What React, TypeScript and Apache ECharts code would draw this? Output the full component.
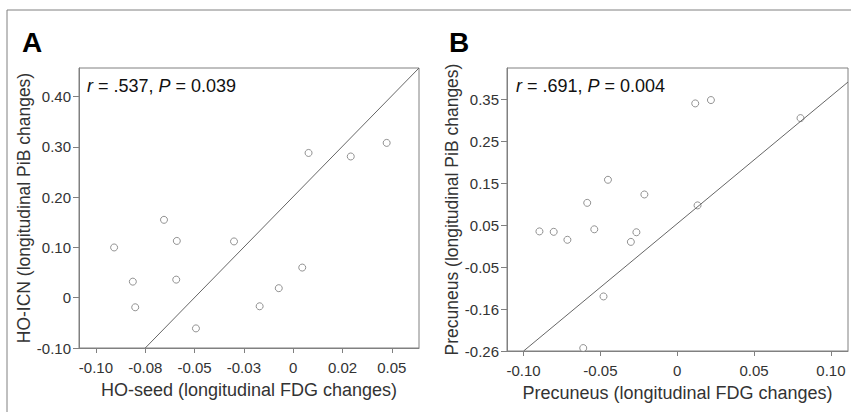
import React, { useEffect, useRef } from "react";
import * as echarts from "echarts";

// Panel A data (HO-seed FDG vs HO-ICN PiB)
const aX = [-0.0908, -0.0655, -0.059, -0.0813, -0.0593, -0.0801, -0.0493, -0.03, 0.0046, -0.0073, -0.017, 0.0078, 0.0292, 0.0474];
const aY = [0.1, 0.155, 0.113, 0.032, 0.036, -0.019, -0.061, 0.112, 0.06, 0.019, -0.017, 0.288, 0.281, 0.308];
const aFitX = [-0.075, 0.0638];
const aFitY = [-0.1, 0.457];
const aXTicks = [-0.1, -0.075, -0.05, -0.025, 0, 0.025, 0.05];
const aXLabels = ["-0.10", "-0.08", "-0.05", "-0.03", "0", "0.02", "0.05"];
const aYTicks = [-0.1, 0, 0.1, 0.2, 0.3, 0.4];
const aYLabels = ["-0.10", "0", "0.10", "0.20", "0.30", "0.40"];

// Panel B data (Precuneus FDG vs Precuneus PiB)
const bX = [0.0117, 0.0219, 0.0802, -0.0451, -0.0214, -0.0586, 0.0132, -0.0897, -0.0804, -0.0715, -0.054, -0.0266, -0.0302, -0.048, -0.0612];
const bY = [0.34, 0.348, 0.305, 0.158, 0.123, 0.103, 0.097, 0.035, 0.034, 0.015, 0.04, 0.033, 0.01, -0.12, -0.243];
const bFitX = [-0.1, 0.1111];
const bFitY = [-0.25, 0.391];
const bXTicks = [-0.1, -0.05, 0, 0.05, 0.1];
const bXLabels = ["-0.10", "-0.05", "0", "0.05", "0.10"];
const bYTicks = [-0.25, -0.15, -0.05, 0.05, 0.15, 0.25, 0.35];
const bYLabels = ["-0.26", "-0.16", "-0.05", "0.05", "0.15", "0.25", "0.35"];

const FONT = "Liberation Sans, Arial, sans-serif";
const TEXT = "#333";
const FRAME = "#808080";

function labelFor(ticks: number[], labels: string[]) {
  return (v: number) => {
    for (let i = 0; i < ticks.length; i++) if (Math.abs(ticks[i] - v) < 1e-6) return labels[i];
    return "";
  };
}

function axis(
  gridIndex: number,
  isX: boolean,
  min: number,
  max: number,
  ticks: number[],
  labels: string[],
  name: string,
  nameGap: number
) {
  return {
    type: "value",
    gridIndex,
    min,
    max,
    name,
    nameLocation: "middle",
    nameGap,
    nameTextStyle: { fontFamily: FONT, fontSize: isX ? 18 : 17.5, color: TEXT },
    axisLine: { show: true, onZero: false, lineStyle: { color: FRAME, width: 1 } },
    splitLine: { show: false },
    axisTick: {
      show: true,
      inside: false,
      length: isX ? 5 : 6,
      customValues: ticks,
      lineStyle: { color: FRAME, width: 1 },
    },
    axisLabel: {
      customValues: ticks,
      formatter: labelFor(ticks, labels),
      fontFamily: FONT,
      fontSize: 15,
      color: TEXT,
      margin: isX ? 12 : 8,
    },
  };
}

export default function App() {
  const ref = useRef<HTMLDivElement>(null);
  useEffect(() => {
    if (!ref.current) return;
    const chart = echarts.init(ref.current, undefined, { renderer: "svg" });
    const scatterStyle = {
      symbol: "circle",
      symbolSize: 7,
      itemStyle: { color: "#fff", borderColor: "#777", borderWidth: 1 },
    };
    const lineStyle = {
      symbol: "none",
      lineStyle: { color: "#666", width: 1 },
      silent: true,
    };
    chart.setOption({
      animation: false,
      backgroundColor: "#fff",
      grid: [
        { left: 79, top: 68, width: 340, height: 280, show: true, borderColor: FRAME, borderWidth: 1, backgroundColor: "transparent" },
        { left: 507, top: 68, width: 341, height: 283, show: true, borderColor: FRAME, borderWidth: 1, backgroundColor: "transparent" },
      ],
      xAxis: [
        axis(0, true, -0.1086, 0.0638, aXTicks, aXLabels, "HO-seed (longitudinal FDG changes)", 33),
        axis(1, true, -0.1108, 0.1111, bXTicks, bXLabels, "Precuneus (longitudinal FDG changes)", 33),
      ],
      yAxis: [
        axis(0, false, -0.1, 0.457, aYTicks, aYLabels, "HO-ICN (longitudinal PiB changes)", 41),
        axis(1, false, -0.25, 0.4244, bYTicks, bYLabels, "Precuneus (longitudinal PiB changes)", 41),
      ],
      series: [
        { type: "line", xAxisIndex: 0, yAxisIndex: 0, data: aFitX.map((x, i) => [x, aFitY[i]]), ...lineStyle },
        { type: "scatter", xAxisIndex: 0, yAxisIndex: 0, data: aX.map((x, i) => [x, aY[i]]), ...scatterStyle },
        { type: "line", xAxisIndex: 1, yAxisIndex: 1, data: bFitX.map((x, i) => [x, bFitY[i]]), ...lineStyle },
        { type: "scatter", xAxisIndex: 1, yAxisIndex: 1, data: bX.map((x, i) => [x, bY[i]]), ...scatterStyle },
      ],
      graphic: [
        { type: "line", shape: { x1: 7, y1: 10, x2: 851, y2: 10 }, style: { stroke: FRAME, lineWidth: 1 } },
        { type: "line", shape: { x1: 7, y1: 10, x2: 7, y2: 412 }, style: { stroke: FRAME, lineWidth: 1 } },
        { type: "text", left: 22, top: 28, style: { text: "A", font: `bold 28px ${FONT}`, fill: "#000" } },
        { type: "text", left: 449, top: 28, style: { text: "B", font: `bold 28px ${FONT}`, fill: "#000" } },
        {
          type: "text",
          left: 87,
          top: 77,
          style: {
            text: "{i|r} = .537, {i|P} = 0.039",
            fontFamily: FONT,
            fontSize: 18,
            fill: "#111",
            rich: { i: { fontStyle: "italic", fontFamily: FONT, fontSize: 18, fill: "#111" } },
          },
        },
        {
          type: "text",
          left: 516,
          top: 77,
          style: {
            text: "{i|r} = .691, {i|P} = 0.004",
            fontFamily: FONT,
            fontSize: 18,
            fill: "#111",
            rich: { i: { fontStyle: "italic", fontFamily: FONT, fontSize: 18, fill: "#111" } },
          },
        },
      ],
    });
    return () => chart.dispose();
  }, []);
  return <div ref={ref} style={{ position: "fixed", left: 0, top: 0, width: 851, height: 412 }} />;
}
